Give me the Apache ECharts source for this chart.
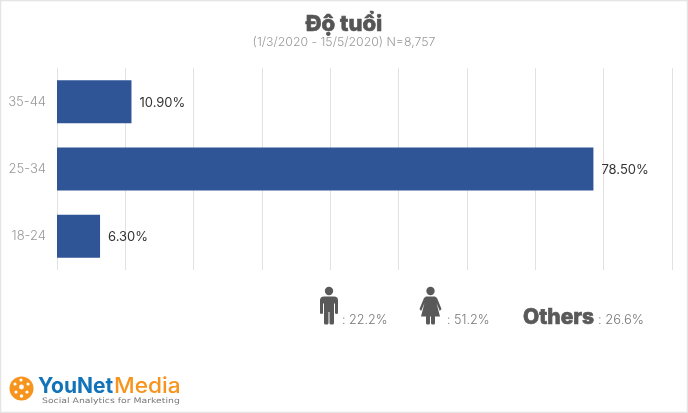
<!DOCTYPE html>
<html>
<head>
<meta charset="utf-8">
<style>
html,body{margin:0;padding:0;background:#fff}
#chart{width:688px;height:413px}
</style>
<script src="https://cdn.jsdelivr.net/npm/echarts@6/dist/echarts.min.js"></script>
</head>
<body>
<div id="chart"></div>
<script>
const ageGroups = ['18-24', '25-34', '35-44'];
const sharePercent = [6.3, 78.5, 10.9];
const titleText = 'Độ tuổi';
const subtitleText = '(1/3/2020 - 15/5/2020) N=8,757';
const maleShare = ': 22.2%';
const femaleShare = ': 51.2%';
const othersShare = ': 26.6%';

const FONT = 'Inter, "Noto Sans", sans-serif';
const ICON = {fill: '#595959'};

const chart = echarts.init(document.getElementById('chart'));

chart.setOption({
    animation: false,
    backgroundColor: '#fff',
    title: {
        text: titleText,
        subtext: subtitleText,
        left: 339,
        top: 8,
        textAlign: 'center',
        itemGap: 1,
        textStyle: {fontFamily: FONT, fontSize: 22, fontWeight: 800, color: '#555', textBorderColor: '#555', textBorderWidth: 0.6},
        subtextStyle: {fontFamily: FONT, fontSize: 12.3, fontWeight: 300, color: '#999'}
    },
    grid: {left: 57, right: 16, top: 68, height: 202},
    xAxis: {
        type: 'value',
        min: 0,
        max: 90,
        interval: 10,
        axisLabel: {show: false},
        axisTick: {show: false},
        axisLine: {show: false},
        splitLine: {lineStyle: {color: '#e2e2e2', width: 1}}
    },
    yAxis: {
        type: 'category',
        data: ageGroups,
        axisTick: {show: false},
        axisLine: {show: false},
        axisLabel: {fontFamily: FONT, fontSize: 13, fontWeight: 300, color: '#999', margin: 11}
    },
    series: [{
        type: 'bar',
        data: sharePercent,
        barWidth: 43,
        itemStyle: {color: '#2f5597'},
        label: {
            show: true,
            position: 'right',
            distance: 8,
            offset: [0, 1],
            fontFamily: FONT,
            fontSize: 13,
            color: '#333',
            formatter: p => p.value.toFixed(2) + '%'
        }
    }],
    graphic: [
        {type: 'rect', silent: true, z: 10, shape: {x: 0.5, y: 0.5, width: 687, height: 412}, style: {fill: 'none', stroke: '#e4e4e4', lineWidth: 1.5}},

        // man icon
        {type: 'circle', shape: {cx: 329, cy: 291, r: 4.2}, style: ICON},
        {type: 'rect', shape: {x: 320, y: 296.5, width: 18, height: 7, r: [4, 4, 0, 0]}, style: ICON},
        {type: 'rect', shape: {x: 320, y: 300, width: 3, height: 14, r: 1.5}, style: ICON},
        {type: 'rect', shape: {x: 335, y: 300, width: 3, height: 14, r: 1.5}, style: ICON},
        {type: 'rect', shape: {x: 324, y: 300, width: 4.5, height: 24.5, r: [0, 0, 1.5, 1.5]}, style: ICON},
        {type: 'rect', shape: {x: 329.5, y: 300, width: 4.5, height: 24.5, r: [0, 0, 1.5, 1.5]}, style: ICON},
        {type: 'rect', shape: {x: 328, y: 300, width: 2, height: 12}, style: ICON},
        {type: 'text', x: 342, y: 314, style: {text: maleShare, fontFamily: FONT, fontSize: 12.6, fontWeight: 300, fill: '#777'}},

        // woman icon
        {type: 'circle', shape: {cx: 430.5, cy: 291, r: 4.2}, style: ICON},
        {type: 'polygon', shape: {points: [[426, 296.5], [435, 296.5], [437, 298], [441.5, 309], [439.8, 311], [436.5, 303], [440, 316.5], [421, 316.5], [424.5, 303], [421.2, 311], [419.5, 309], [424, 298]]}, style: ICON},
        {type: 'rect', shape: {x: 426, y: 316, width: 4, height: 8.5, r: [0, 0, 1.5, 1.5]}, style: ICON},
        {type: 'rect', shape: {x: 431, y: 316, width: 4, height: 8.5, r: [0, 0, 1.5, 1.5]}, style: ICON},
        {type: 'text', x: 447, y: 314, style: {text: femaleShare, fontFamily: FONT, fontSize: 12.6, fontWeight: 300, fill: '#777'}},

        {type: 'text', x: 523, y: 307, style: {text: 'Others', fontFamily: FONT, fontSize: 21, fontWeight: 800, fill: '#595959', stroke: '#595959', lineWidth: 0.7}},
        {type: 'text', x: 598, y: 314, style: {text: othersShare, fontFamily: FONT, fontSize: 13, fontWeight: 300, fill: '#777'}},

        // logo
        {type: 'circle', shape: {cx: 21.5, cy: 388.5, r: 12}, style: {fill: '#f7941d'}},
        {type: 'circle', shape: {cx: 21.5, cy: 387, r: 2.4}, style: {fill: '#fff'}},
        {type: 'circle', shape: {cx: 15, cy: 384, r: 1.6}, style: {fill: '#fff'}},
        {type: 'circle', shape: {cx: 21, cy: 380, r: 1.6}, style: {fill: '#fff'}},
        {type: 'circle', shape: {cx: 28, cy: 384, r: 1.6}, style: {fill: '#fff'}},
        {type: 'circle', shape: {cx: 16, cy: 392, r: 1.6}, style: {fill: '#fff'}},
        {type: 'circle', shape: {cx: 27, cy: 392, r: 1.6}, style: {fill: '#fff'}},
        {type: 'circle', shape: {cx: 21.5, cy: 396, r: 1.8}, style: {fill: '#fff'}},
        {type: 'text', x: 38, y: 376, style: {text: 'YouNet', fontFamily: FONT, fontSize: 21, fontWeight: 700, fill: '#1273b8'}},
        {type: 'text', x: 114, y: 376, scaleX: 1.08, style: {text: 'Media', fontFamily: FONT, fontSize: 21, fontWeight: 500, fill: '#f7941d'}},
        {type: 'text', x: 42, y: 397, scaleX: 1.24, style: {text: 'Social Analytics for Marketing', fontFamily: '"DejaVu Sans", sans-serif', fontSize: 7.5, fill: '#777'}}
    ]
});
</script>
</body>
</html>
